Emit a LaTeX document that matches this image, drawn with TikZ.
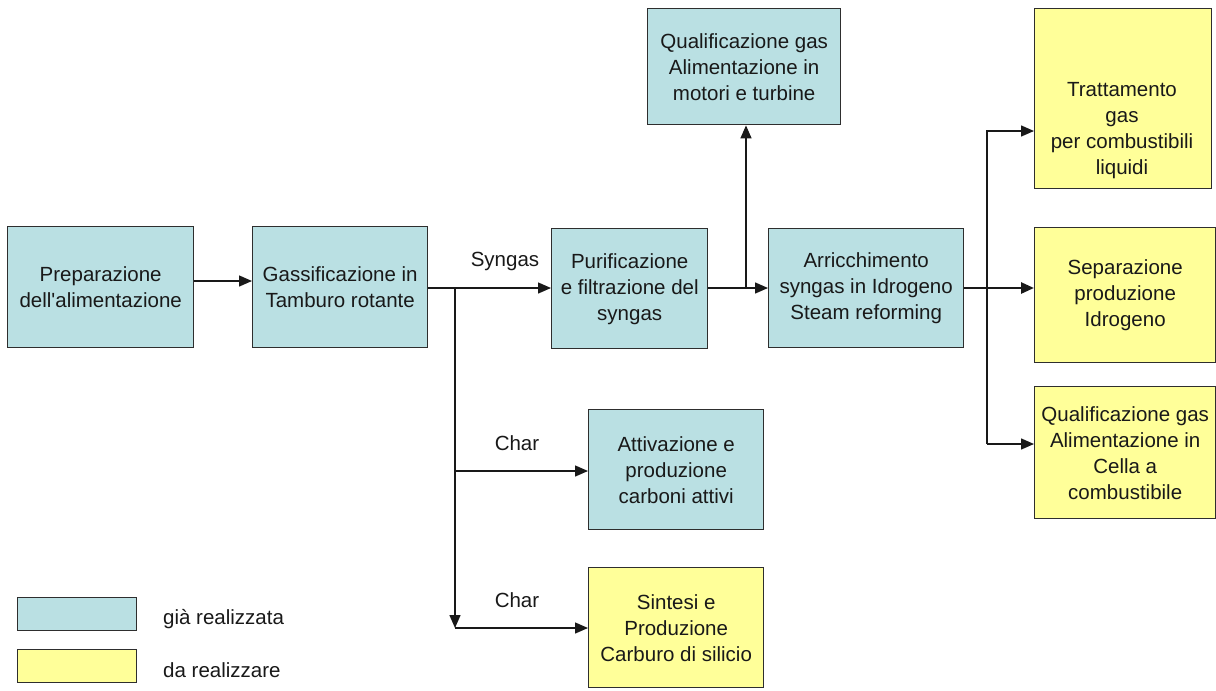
\documentclass[tikz,border=0pt]{standalone}
\usepackage{fontspec}
\setmainfont{Liberation Sans}
\usetikzlibrary{arrows.meta}
\definecolor{donefill}{HTML}{BAE0E3}
\definecolor{todofill}{HTML}{FFFF99}
\definecolor{edgegray}{HTML}{2E2E2E}
\begin{document}
\begin{tikzpicture}[x=1pt,y=-1pt,
  every node/.style={font=\fontsize{20.5}{26}\selectfont, text=black!90},
  box/.style={draw=edgegray, line width=1.4pt, align=center, inner sep=0pt, anchor=north west},
  done/.style={box, fill=donefill},
  todo/.style={box, fill=todofill},
  flow/.style={line width=1.4pt, draw=black!90},
  tip/.style={-{Triangle[length=13pt,width=11pt]}},
  lbl/.style={inner sep=0pt}]
% canvas
\fill[white] (0,0) rectangle (1216,691);
\useasboundingbox (0,0) rectangle (1216,691);

% process boxes
\node[done, minimum width=186, minimum height=121] (prep) at (7,226) {Preparazione\\dell\textquotesingle alimentazione};
\node[done, minimum width=175, minimum height=121] (gass) at (252,226) {Gassificazione in\\Tamburo rotante};
\node[done, minimum width=156, minimum height=120] (purif) at (551,228) {Purificazione\\e filtrazione del\\syngas};
\node[done, minimum width=195, minimum height=119] (arr) at (768,228) {Arricchimento\\syngas in Idrogeno\\Steam reforming};
\node[done, minimum width=193, minimum height=116] (qual) at (647,8) {Qualificazione gas\\Alimentazione in\\motori e turbine};
\node[todo, minimum width=177, minimum height=180] (tratt) at (1034,8) {};
\node[lbl, align=center] (trattext) at (1122,131) {Trattamento\\gas\\per combustibili\\liquidi};
\node[todo, minimum width=181, minimum height=135] (sep) at (1034,227) {Separazione\\produzione\\Idrogeno};
\node[todo, minimum width=181, minimum height=132] (cella) at (1034,386) {Qualificazione gas\\Alimentazione in\\Cella a\\combustibile};
\node[done, minimum width=175, minimum height=120] (attiv) at (588,409) {Attivazione e\\produzione\\carboni attivi};
\node[todo, minimum width=175, minimum height=120] (sint) at (588,567) {Sintesi e\\Produzione\\Carburo di silicio};

% legend
\node[done, minimum width=119, minimum height=33] (keydone) at (17,597) {};
\node[todo, minimum width=119, minimum height=33] (keytodo) at (17,649) {};
\node[lbl, anchor=west] (keydonetext) at (163,619) {già realizzata};
\node[lbl, anchor=west] (keytodotext) at (163,670) {da realizzare};

% junction points
\coordinate (split) at (455,288);
\coordinate (charA) at (455,471);
\coordinate (charB) at (455,628);
\coordinate (up) at (746,288);
\coordinate (forkT) at (987,131);
\coordinate (forkB) at (987,444);

% connectors
\draw[flow,tip] (prep.east |- 0,281) -- (gass.west |- 0,281);
\draw[flow,tip] (gass.east |- split) -- (purif.west |- split);
\node[lbl] (syngaslbl) at (505,261) {Syngas};
\draw[flow,tip] (split) -- (charB);
\draw[flow,tip] (charA) -- (attiv.west |- charA);
\draw[flow,tip] (charB) -- (sint.west |- charB);
\node[lbl] (charlblA) at (517,443) {Char};
\node[lbl] (charlblB) at (517,600) {Char};
\draw[flow,tip] (purif.east |- up) -- (arr.west |- up);
\draw[flow,tip] (up) -- (qual.south -| up);
\draw[flow,line width=2.6pt,tip] (arr.east |- up) -- (sep.west |- up);
\draw[flow,tip] (forkB) -- (forkT) -- (tratt.west |- forkT);
\draw[flow,tip] (forkB) -- (cella.west |- forkB);
\end{tikzpicture}
\end{document}
